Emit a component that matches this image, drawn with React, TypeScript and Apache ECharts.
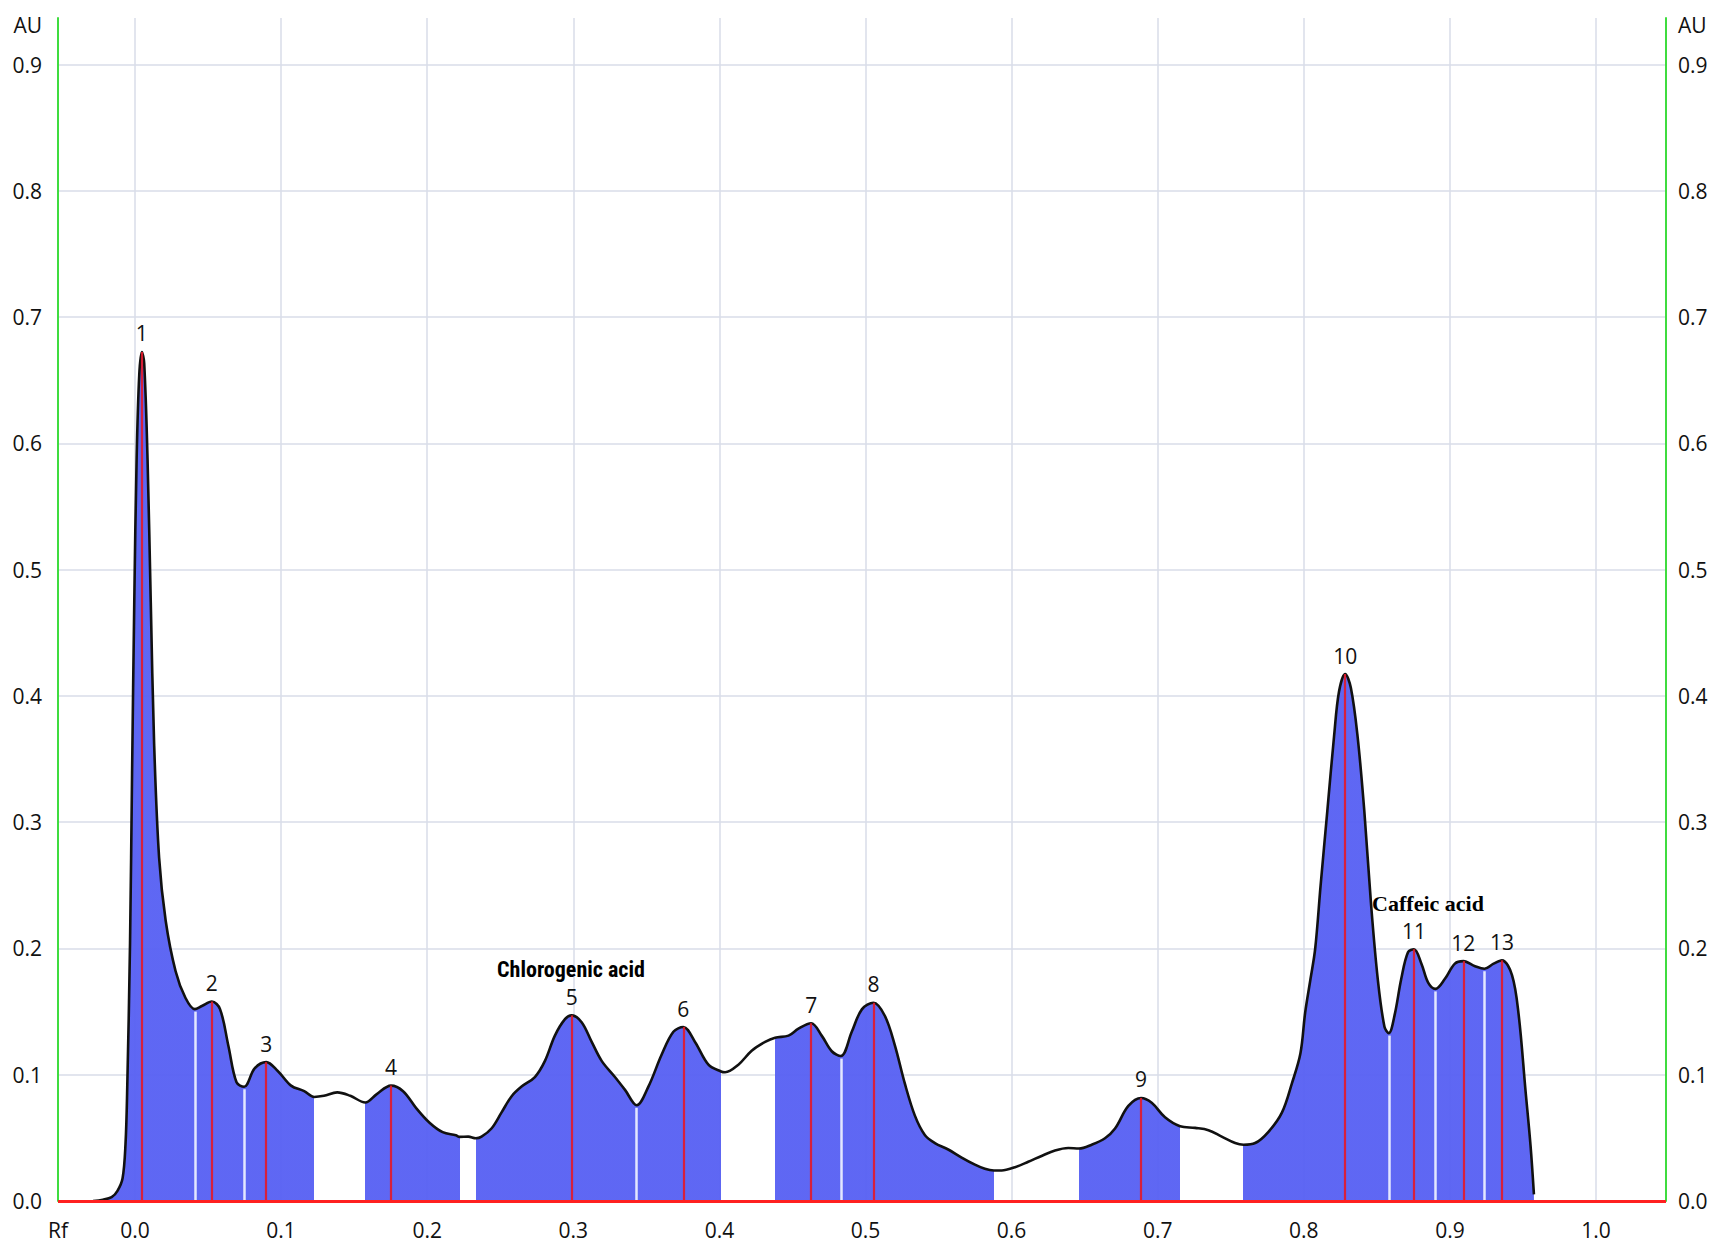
import React, { useEffect, useRef } from "react";
import * as echarts from "echarts";

// ---- data ----
const curveRf = [
  -0.0287, -0.022, -0.016, -0.012, -0.0085, -0.0065, -0.0054, -0.0034, -0.002, -0.0005,
  0.0011, 0.0029, 0.0047, 0.0063, 0.0086, 0.0108, 0.0131, 0.0165, 0.021, 0.0278,
  0.0345, 0.0409, 0.0458, 0.0526, 0.0582, 0.0639, 0.0695, 0.0747, 0.0819, 0.0898,
  0.0977, 0.1068, 0.1158, 0.1226, 0.1293, 0.1384, 0.1474, 0.1576, 0.1655, 0.1752,
  0.1835, 0.1926, 0.2016, 0.2106, 0.2196, 0.2222, 0.2281, 0.2333, 0.2372, 0.244,
  0.2509, 0.2578, 0.2646, 0.2737, 0.2806, 0.2874, 0.2943, 0.2989, 0.3057, 0.3126,
  0.3194, 0.3285, 0.3354, 0.3434, 0.3514, 0.3605, 0.3685, 0.3753, 0.3833, 0.3925,
  0.4011, 0.4039, 0.413, 0.4221, 0.4313, 0.4381, 0.4473, 0.4541, 0.4628, 0.47,
  0.4769, 0.4831, 0.4906, 0.4975, 0.5055, 0.5132, 0.52, 0.5269, 0.5338, 0.5406,
  0.5475, 0.5566, 0.5658, 0.5749, 0.5817, 0.5879, 0.5932, 0.6023, 0.6114, 0.6205,
  0.6297, 0.6388, 0.6461, 0.6548, 0.6639, 0.6708, 0.6799, 0.6886, 0.6959, 0.705,
  0.7153, 0.7256, 0.7347, 0.7438, 0.753, 0.7587, 0.7667, 0.7758, 0.785, 0.7918,
  0.7977, 0.8009, 0.8046, 0.8078, 0.8115, 0.8161, 0.8207, 0.8241, 0.8283, 0.8322,
  0.8368, 0.8414, 0.846, 0.8506, 0.8552, 0.8582, 0.8621, 0.8667, 0.8713, 0.8754,
  0.8805, 0.8851, 0.8901, 0.8966, 0.9034, 0.9092, 0.9172, 0.9237, 0.9299, 0.9356,
  0.9425, 0.9471, 0.9517, 0.9552, 0.9575,
];
const curveAU = [
  0.0, 0.001, 0.003, 0.008, 0.018, 0.045, 0.085, 0.204, 0.339, 0.474,
  0.587, 0.654, 0.6725, 0.6635, 0.587, 0.474, 0.362, 0.272, 0.222, 0.182,
  0.161, 0.152, 0.1545, 0.158, 0.152, 0.123, 0.094, 0.0905, 0.105, 0.11,
  0.103, 0.0914, 0.087, 0.0824, 0.0833, 0.086, 0.0833, 0.078, 0.0847, 0.0914,
  0.087, 0.0734, 0.062, 0.0545, 0.052, 0.0508, 0.051, 0.0497, 0.051, 0.0574,
  0.0702, 0.083, 0.0906, 0.0982, 0.111, 0.131, 0.144, 0.147, 0.1416, 0.126,
  0.111, 0.0982, 0.088, 0.0758, 0.0906, 0.116, 0.134, 0.1378, 0.126, 0.108,
  0.1026, 0.102, 0.108, 0.119, 0.126, 0.1293, 0.131, 0.1365, 0.1408, 0.131,
  0.1186, 0.1148, 0.134, 0.1518, 0.157, 0.1467, 0.1237, 0.0931, 0.0676, 0.0523,
  0.0459, 0.0408, 0.0344, 0.0288, 0.0255, 0.0242, 0.0242, 0.0268, 0.0311, 0.0357,
  0.04, 0.042, 0.0416, 0.0446, 0.0497, 0.0574, 0.0753, 0.0816, 0.0778, 0.0663,
  0.0592, 0.0579, 0.0561, 0.051, 0.0459, 0.0446, 0.0459, 0.0548, 0.07, 0.093,
  0.117, 0.149, 0.176, 0.2, 0.25, 0.309, 0.368, 0.4035, 0.4174, 0.4065,
  0.368, 0.309, 0.2354, 0.176, 0.138, 0.133, 0.147, 0.176, 0.197, 0.1994,
  0.188, 0.173, 0.168, 0.176, 0.188, 0.19, 0.186, 0.184, 0.188, 0.1906,
  0.179, 0.147, 0.088, 0.0437, 0.0053,
];

const peakRf = [0.0047, 0.0526, 0.0898, 0.1752, 0.2989, 0.3753, 0.4628, 0.5055, 0.6886, 0.8283, 0.8754, 0.9092, 0.9356];
const peakLabels = ["1", "2", "3", "4", "5", "6", "7", "8", "9", "10", "11", "12", "13"];
const separatorRf = [0.0409, 0.0747, 0.3434, 0.4831, 0.8582, 0.8901, 0.9237];
const bandStart = [-0.03, 0.1576, 0.2333, 0.4381, 0.6461, 0.7587];
const bandEnd = [0.1226, 0.2222, 0.4011, 0.5879, 0.7153, 0.9576];

const compoundNames = ["Chlorogenic acid", "Caffeic acid"];
const compoundRf = [0.2984, 0.885];
const compoundAU = [0.1835, 0.2355];

const xTickValues = [0, 0.1, 0.2, 0.3, 0.4, 0.5, 0.6, 0.7, 0.8, 0.9, 1.0];
const yTickValues = [0, 0.1, 0.2, 0.3, 0.4, 0.5, 0.6, 0.7, 0.8, 0.9];
const xMin = -0.0527;
const xMax = 1.0479;
const yMax = 0.937;

function heightAt(rf: number): number {
  let best = 0;
  for (let i = 1; i < curveRf.length; i++) {
    if (Math.abs(curveRf[i] - rf) < Math.abs(curveRf[best] - rf)) best = i;
  }
  return curveAU[best];
}

const FILL = "#5861f3";
const FONT = "'Open Sans', 'Noto Sans', sans-serif";
const SMOOTH = 0.35;

export default function App() {
  const ref = useRef<HTMLDivElement>(null);
  useEffect(() => {
    if (!ref.current) return;
    const chart = echarts.init(ref.current, null, { renderer: "svg" });
    const curve = curveRf.map((x, i) => [x, curveAU[i]]);

    const peakLines = peakRf.map((x) => [
      { coord: [x, 0] },
      { coord: [x, heightAt(x)] },
    ]);
    const sepLines = separatorRf.map((x) => [
      { coord: [x, 0] },
      { coord: [x, heightAt(x) - 0.002] },
    ]);

    const labelStyle = { fontFamily: FONT, fontSize: 21, color: "#111111" };
    const hidden = { color: "rgba(0,0,0,0)", borderWidth: 0 };

    chart.setOption({
      animation: false,
      backgroundColor: "#ffffff",
      grid: { left: 58, right: 52, top: 18, bottom: 49, containLabel: false },
      xAxis: {
        type: "value",
        min: xMin,
        max: xMax,
        axisLine: { show: false },
        axisTick: { show: false, customValues: xTickValues },
        axisLabel: {
          ...labelStyle,
          margin: 18,
          customValues: [xMin, ...xTickValues],
          formatter: (v: number) => (v < -0.01 ? "Rf" : v.toFixed(1)),
        },
        splitLine: { show: true, lineStyle: { color: "#d9dce8", width: 1.5 } },
      },
      yAxis: [
        {
          type: "value",
          position: "left",
          min: 0,
          max: yMax,
          axisLine: { show: true, onZero: false, lineStyle: { color: "#3fdc3f", width: 2 } },
          axisTick: { show: false, customValues: yTickValues },
          axisLabel: {
            ...labelStyle,
            margin: 16,
            customValues: [...yTickValues, yMax],
            formatter: (v: number) => (v > 0.92 ? "{au|AU}" : v.toFixed(1)),
            rich: { au: { ...labelStyle, padding: [14, 0, 0, 0] } },
          },
          splitLine: { show: true, lineStyle: { color: "#d9dce8", width: 1.5 } },
        },
        {
          type: "value",
          position: "right",
          min: 0,
          max: yMax,
          axisLine: { show: true, onZero: false, lineStyle: { color: "#3fdc3f", width: 2 } },
          axisTick: { show: false, customValues: yTickValues },
          axisLabel: {
            ...labelStyle,
            margin: 12,
            customValues: [...yTickValues, yMax],
            formatter: (v: number) => (v > 0.92 ? "{au|AU}" : v.toFixed(1)),
            rich: { au: { ...labelStyle, padding: [14, 0, 0, 0] } },
          },
          splitLine: { show: false },
        },
      ],
      visualMap: {
        type: "piecewise",
        show: false,
        dimension: 0,
        seriesIndex: 0,
        pieces: bandStart.map((s, i) => ({ gte: s, lt: bandEnd[i], color: FILL })),
        outOfRange: { color: "rgba(88,97,243,0)" },
      },
      series: [
        {
          name: "fill",
          type: "line",
          data: curve,
          smooth: SMOOTH,
          showSymbol: false,
          silent: true,
          lineStyle: { width: 0, opacity: 0 },
          areaStyle: { opacity: 0.96 },
          z: 2,
        },
        {
          name: "trace",
          type: "line",
          data: curve,
          smooth: SMOOTH,
          showSymbol: false,
          silent: true,
          lineStyle: { color: "#111111", width: 2.6 },
          z: 4,
          markLine: {
            silent: true,
            symbol: ["none", "none"],
            label: { show: false },
            animation: false,
            data: [
              ...sepLines.map((d) => [
                { ...d[0], lineStyle: { color: "rgba(235,238,255,0.95)", width: 2.5, type: "solid" } },
                d[1],
              ]),
              ...peakLines.map((d) => [
                { ...d[0], lineStyle: { color: "rgba(228,24,40,0.9)", width: 2.2, type: "solid" } },
                d[1],
              ]),
              { yAxis: 0, lineStyle: { color: "#ff2020", width: 3, type: "solid" } },
            ],
          },
        },
        {
          name: "peaks",
          type: "scatter",
          symbol: "circle",
          symbolSize: 2,
          itemStyle: hidden,
          silent: true,
          z: 6,
          data: peakRf.map((x, i) => ({ value: [x, heightAt(x)], name: peakLabels[i] })),
          label: {
            show: true,
            position: "top",
            distance: 7,
            formatter: "{b}",
            fontFamily: FONT,
            fontSize: 21,
            color: "#111111",
            opacity: 1,
            textBorderWidth: 0,
          },
        },
        {
          name: "compounds",
          type: "scatter",
          symbol: "circle",
          symbolSize: 2,
          itemStyle: hidden,
          silent: true,
          z: 6,
          data: compoundNames.map((n, i) => ({
            value: [compoundRf[i], compoundAU[i]],
            name: n,
            label: i === 0
              ? { fontFamily: "'Liberation Sans Narrow', 'Roboto Condensed', Roboto, sans-serif", fontSize: 22, fontWeight: "bold" }
              : { fontFamily: "'Liberation Serif', 'Times New Roman', serif", fontSize: 22, fontWeight: "bold" },
          })),
          label: {
            show: true,
            position: "inside",
            formatter: "{b}",
            color: "#000000",
            opacity: 1,
            textBorderWidth: 0,
          },
        },
      ],
    });
    return () => chart.dispose();
  }, []);
  return (
    <div
      ref={ref}
      style={{ position: "absolute", left: 0, top: 0, width: 1718, height: 1250 }}
    />
  );
}
